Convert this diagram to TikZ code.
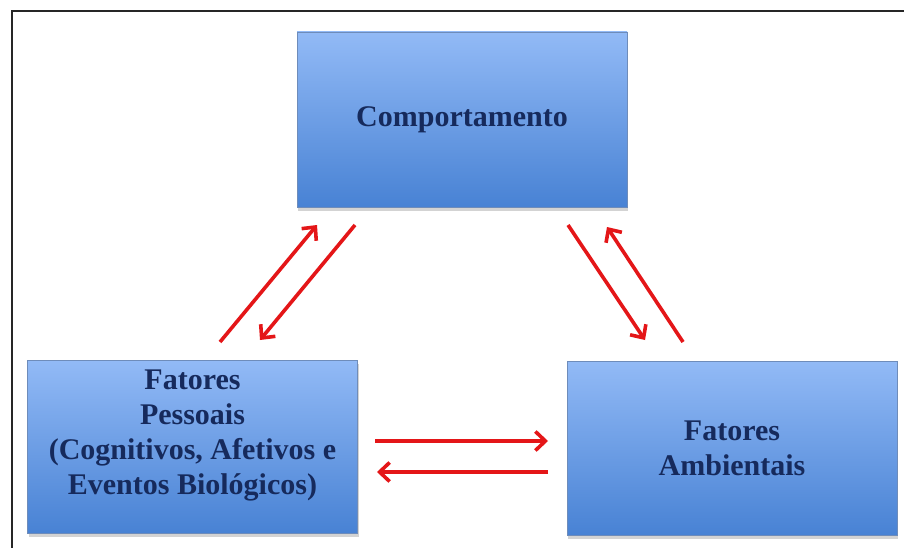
\documentclass[tikz,border=0pt]{standalone}
\usepackage{fontspec}
\setmainfont{Liberation Serif}
\usetikzlibrary{arrows.meta}
\usetikzlibrary{positioning, calc}
\usetikzlibrary{shadows}

\definecolor{boxtop}{RGB}{146,186,246}
\definecolor{boxbot}{RGB}{72,130,212}
\definecolor{boxline}{RGB}{110,140,186}
\definecolor{navytext}{RGB}{22,42,92}
\definecolor{arrowred}{RGB}{228,22,24}

\begin{document}
\begin{tikzpicture}[x=1pt,y=-1pt,
% Box style
    factor/.style={rectangle,draw=boxline,line width=0.8pt,
		top color=boxtop,bottom color=boxbot,
		drop shadow={opacity=0.35,shadow xshift=1pt,shadow yshift=-3.5pt},
		minimum width=330pt,inner sep=0pt},
% Text style
    factortext/.style={text=navytext,align=center,
		font={\fontsize{30pt}{35pt}\selectfont\bfseries}},
% Arrow style
    link/.style={arrowred,line width=3.6pt,
		-{Straight Barb[length=10pt,width=19pt,line width=3.6pt]}}
    ]
  \useasboundingbox (0,0) rectangle (904,548);
  \draw [line width=2.6pt,black!85] (904,11) -- (12,11) -- (12,548);

  % the three factors
  \node (comp) [factor,minimum height=175pt,factortext] at (462,119.5) {Comportamento};
  \node (pes) [factor,minimum height=173pt] at (192.5,446.5) {};
  \node (pestxt) [factortext] at ([yshift=11pt]pes.center)
    {Fatores\\Pessoais\\(Cognitivos, Afetivos e\\Eventos Biológicos)};
  \node (amb) [factor,minimum height=174pt,factortext] at (732,448) {Fatores\\Ambientais};

  % arrow ends
  \coordinate (pc1) at (220,342);
  \coordinate (cp1) at (317,225);
  \coordinate (cp2) at (355,225);
  \coordinate (pc2) at (260,340);
  \coordinate (ca1) at (568,225);
  \coordinate (ac1) at (645,340);
  \coordinate (ac2) at (683,342);
  \coordinate (ca2) at (607,227);
  \coordinate (pa1) at (375,441);
  \coordinate (ap1) at (548,441);
  \coordinate (ap2) at (548,472);
  \coordinate (pa2) at (377,472);

  \draw [link] (pc1) -- (cp1);
  \draw [link] (cp2) -- (pc2);
  \draw [link] (ca1) -- (ac1);
  \draw [link] (ac2) -- (ca2);
  \draw [link] (pa1) -- (ap1);
  \draw [link] (ap2) -- (pa2);

\end{tikzpicture}
\end{document}
